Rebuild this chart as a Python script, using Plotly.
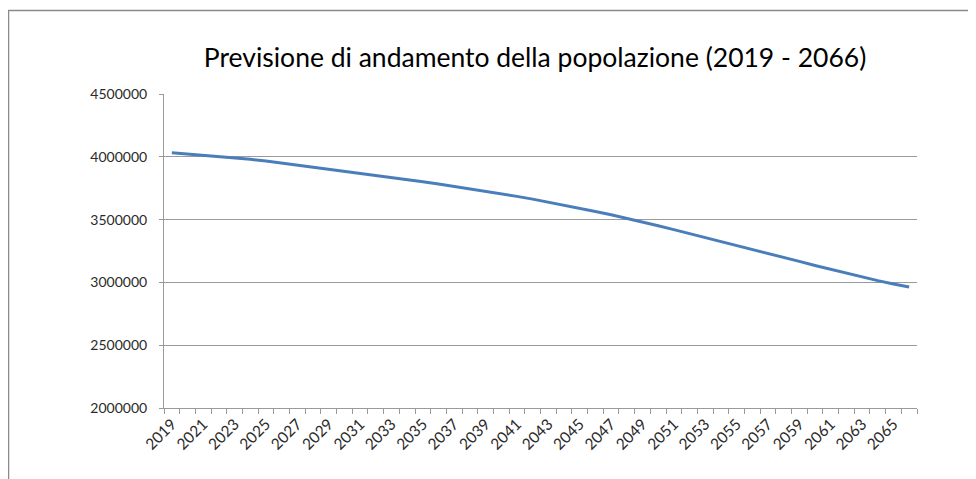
import plotly.graph_objects as go

years = list(range(2019, 2067))
population = [
    4033000, 4022000, 4012000, 4003000, 3995000, 3980000, 3966000, 3950000,
    3935000, 3918000, 3902000, 3886000, 3870000, 3853000, 3836000, 3819000,
    3801000, 3783000, 3764000, 3745000, 3726000, 3706000, 3685000, 3663000,
    3640000, 3616000, 3591000, 3565000, 3538000, 3510000, 3481000, 3451000,
    3420000, 3389000, 3358000, 3327000, 3296000, 3265000, 3233000, 3200000,
    3167000, 3135000, 3104000, 3073000, 3043000, 3014000, 2988000, 2963000,
]
label_years = list(range(2019, 2067, 2))
y_ticks = [2000000, 2500000, 3000000, 3500000, 4000000, 4500000]

title_text = "Previsione di andamento della popolazione (2019 - 2066)"

# page body has an 8px margin, so the figure starts at (8, 8) in the window
OFF = 8
W, H = 976 - OFF, 479 - OFF
L, R, T, B = 164 - OFF, 917 - OFF, 94 - OFF, 408 - OFF

fig = go.Figure()
fig.add_trace(go.Scatter(
    x=years, y=population, mode="lines",
    line=dict(color="#4a7ebb", width=3),
    hoverinfo="x+y", showlegend=False,
))

pw = R - L
ph = B - T

def px_to_paper_x(px):
    return (px - OFF - L) / pw

def px_to_paper_y(py):
    return (B - (py - OFF)) / ph

fig.update_layout(
    width=W, height=H,
    margin=dict(l=L, r=W - R, t=T, b=H - B, pad=0),
    paper_bgcolor="white", plot_bgcolor="white",
    title=dict(
        text=title_text,
        x=px_to_paper_x(535), xref="paper", xanchor="center",
        y=1 - (58 - OFF) / H, yref="container", yanchor="middle",
        font=dict(family="Lato", size=26.5, color="#000000"),
    ),
    font=dict(family="Lato", size=12, color="#2a2a2a"),
    shapes=[dict(
        type="rect", xref="paper", yref="paper",
        x0=px_to_paper_x(8.5), x1=px_to_paper_x(1000),
        y0=px_to_paper_y(500), y1=px_to_paper_y(10.5),
        line=dict(color="#8a8a8a", width=1.5), fillcolor="rgba(0,0,0,0)",
        layer="below",
    )],
)

fig.update_xaxes(
    range=[2018.5, 2066.5],
    tickmode="array", tickvals=label_years, ticktext=[str(y) for y in label_years],
    tickangle=-45, ticks="outside", ticklen=0, tickcolor="rgba(0,0,0,0)",
    showgrid=False, zeroline=False,
    showline=True, linecolor="#9a9a9a", linewidth=1,
    tickfont=dict(family="Lato", size=15.5, color="#2a2a2a"),
    minor=dict(ticks="outside", tick0=2018.5, dtick=1, ticklen=5,
               tickcolor="#9a9a9a", showgrid=False),
)

fig.update_yaxes(
    range=[2000000, 4500000],
    tickmode="array", tickvals=y_ticks, ticktext=[str(v) for v in y_ticks],
    ticks="outside", ticklen=4, tickcolor="#9a9a9a",
    showgrid=True, gridcolor="#9a9a9a", gridwidth=1,
    zeroline=False, showline=True, linecolor="#9a9a9a", linewidth=1,
    tickfont=dict(family="Lato", size=14, color="#2a2a2a"),
    ticklabelstandoff=9,
)

fig.write_html("out.html")
